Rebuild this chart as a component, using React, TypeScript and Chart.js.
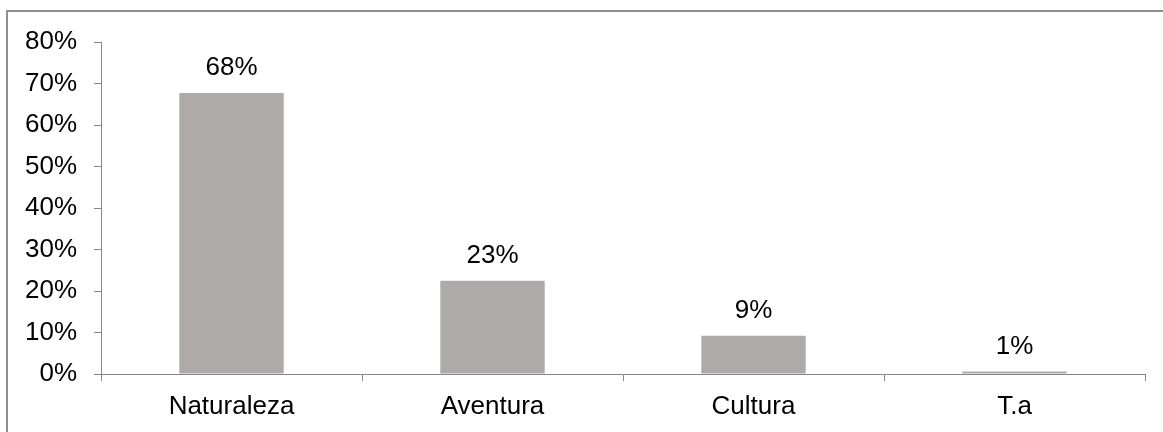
import React, { useEffect, useRef } from "react";
import { Chart, registerables } from "chart.js";

Chart.register(...registerables);

const categories = ["Naturaleza", "Aventura", "Cultura", "T.a"];
const values = [67.7, 22.5, 9.2, 0.6];
const valueLabels = ["68%", "23%", "9%", "1%"];
const yTicks = [0, 10, 20, 30, 40, 50, 60, 70, 80];

const FONT = "'Liberation Sans', Arial, sans-serif";
const FONT_SIZE = 26;

export default function App() {
  const ref = useRef<HTMLCanvasElement | null>(null);

  useEffect(() => {
    document.body.style.margin = "0";
    const canvas = ref.current;
    if (!canvas) return;

    const framePlugin = {
      id: "frame",
      beforeDraw(chart: any) {
        const ctx = chart.ctx;
        ctx.save();
        ctx.fillStyle = "#ffffff";
        ctx.fillRect(0, 0, chart.width, chart.height);
        ctx.strokeStyle = "#8f8f8f";
        ctx.lineWidth = 2;
        ctx.strokeRect(7, 11, 1300, 600);
        ctx.restore();
      },
    };

    const labelPlugin = {
      id: "valueLabels",
      afterDatasetsDraw(chart: any) {
        const ctx = chart.ctx;
        const meta = chart.getDatasetMeta(0);
        ctx.save();
        ctx.font = `${FONT_SIZE}px ${FONT}`;
        ctx.fillStyle = "#000000";
        ctx.textAlign = "center";
        ctx.textBaseline = "middle";
        meta.data.forEach((bar: any, i: number) => {
          ctx.fillText(valueLabels[i], bar.x, bar.y - 25);
        });
        ctx.restore();
      },
    };

    const chart = new Chart(canvas, {
      type: "bar",
      data: {
        labels: categories,
        datasets: [
          {
            data: values,
            backgroundColor: "#AEAAAA",
            borderWidth: 0,
            barPercentage: 0.4,
            categoryPercentage: 1,
          },
        ],
      },
      options: {
        responsive: false,
        animation: false,
        devicePixelRatio: 1,
        layout: { padding: { top: 42, right: 18, left: 0, bottom: 0 } },
        plugins: {
          legend: { display: false },
          tooltip: { enabled: false },
        },
        scales: {
          x: {
            grid: {
              offset: true,
              drawOnChartArea: false,
              drawTicks: true,
              tickLength: 7,
              color: "#868686",
            },
            border: { display: true, color: "#868686", width: 1 },
            ticks: {
              color: "#000000",
              font: { family: FONT, size: FONT_SIZE },
              padding: 10,
              maxRotation: 0,
            },
            afterFit(scale: any) {
              scale.height = 58;
            },
          },
          y: {
            min: 0,
            max: 80,
            afterBuildTicks(scale: any) {
              scale.ticks = yTicks.map((v) => ({ value: v }));
            },
            grid: {
              drawOnChartArea: false,
              drawTicks: true,
              tickLength: 7,
              color: "#868686",
            },
            border: { display: true, color: "#868686", width: 1 },
            ticks: {
              color: "#000000",
              font: { family: FONT, size: FONT_SIZE },
              padding: 17,
              callback: (v: any) => `${v}%`,
            },
            afterFit(scale: any) {
              scale.width = 101;
            },
          },
        },
      },
      plugins: [framePlugin, labelPlugin],
    });

    return () => chart.destroy();
  }, []);

  return (
    <div style={{ width: 1163, height: 432 }}>
      <canvas ref={ref} width={1163} height={432} style={{ display: "block" }} />
    </div>
  );
}
